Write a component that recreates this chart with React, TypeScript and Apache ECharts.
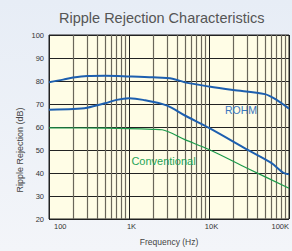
import React, { useEffect, useRef } from "react";
import * as echarts from "echarts";

const chartTitle = "Ripple Rejection Characteristics";
const xName = "Frequency (Hz)";
const yName = "Ripple Rejection (dB)";
const xTickLabels: Record<number, string> = { 100: "100", 1000: "1K", 10000: "10K", 100000: "100K" };
const minorGridFreqs = [
  200, 300, 400, 500, 600, 700, 800, 900,
  2000, 3000, 4000, 5000, 6000, 7000, 8000, 9000,
  20000, 30000, 40000, 50000, 60000, 70000, 80000, 90000,
];

// [frequency Hz, dB]
const rohmUpper: [number, number][] = [
  [100, 79.5], [150, 80.6], [200, 81.5], [300, 82.2], [500, 82.3], [1000, 82],
  [2000, 81.6], [3500, 81], [5000, 79.4], [10000, 77.6], [20000, 76.1],
  [50000, 74.3], [70000, 71.8], [100000, 68],
];
const rohmLower: [number, number][] = [
  [100, 67.5], [200, 67.8], [300, 68.4], [500, 70.3], [700, 71.8], [1000, 72.5],
  [1500, 71.8], [3000, 69.3], [5000, 65], [10000, 59.6], [30000, 50.2],
  [60000, 44.4], [85000, 40.1], [100000, 39.4],
];
const conventional: [number, number][] = [
  [100, 59.6], [500, 59.5], [1000, 59.3], [2000, 59], [2600, 58.8], [5000, 54.5],
  [10000, 50.2], [30000, 42.1], [100000, 33.4],
];

const FONT = "'Liberation Sans', Arial, sans-serif";

export default function App() {
  const ref = useRef<HTMLDivElement>(null);
  useEffect(() => {
    if (!ref.current) return;
    const chart = echarts.init(ref.current, undefined, { renderer: "svg" });
    chart.setOption({
      animation: false,
      backgroundColor: new echarts.graphic.LinearGradient(0, 0, 0, 1, [
        { offset: 0, color: "#E7EDF6" },
        { offset: 1, color: "#F3F5F9" },
      ]),
      textStyle: { fontFamily: FONT },
      title: {
        text: chartTitle,
        left: 54,
        top: 5,
        textStyle: { fontSize: 14.5, fontWeight: "normal", color: "#555", fontFamily: FONT },
      },
      grid: {
        left: 49,
        top: 35,
        right: 1,
        bottom: 31,
        show: true,
        backgroundColor: "#FFFDE6",
        borderColor: "#222",
        borderWidth: 1,
      },
      xAxis: {
        type: "log",
        logBase: 10,
        min: 100,
        max: 100000,
        name: xName,
        nameLocation: "middle",
        nameGap: 18,
        nameTextStyle: { fontSize: 8.5, color: "#444", fontFamily: FONT },
        axisLine: { show: false },
        axisTick: { show: false },
        axisLabel: {
          fontSize: 7.5,
          color: "#333",
          margin: 3,
          padding: [0, 0, 0, 5],
          alignMinLabel: "left",
          alignMaxLabel: "right",
          formatter: (v: number) => xTickLabels[Math.round(v)] ?? "",
        },
        splitLine: { show: true, lineStyle: { color: "#222", width: 1 } },
      },
      yAxis: {
        type: "value",
        min: 20,
        max: 100,
        interval: 10,
        axisLine: { show: false },
        axisTick: { show: false },
        axisLabel: { fontSize: 7.5, color: "#333", margin: 5 },
        splitLine: { show: true, lineStyle: { color: "#222", width: 1 } },
      },
      series: [
        {
          type: "line",
          data: [],
          silent: true,
          markLine: {
            silent: true,
            symbol: "none",
            label: { show: false },
            lineStyle: { color: "#6a665a", width: 1.2, type: "solid" },
            data: minorGridFreqs.map((f) => ({ xAxis: f })),
          },
        },
        {
          type: "line",
          name: "ROHM upper",
          data: rohmUpper,
          smooth: 0.3,
          showSymbol: false,
          lineStyle: { color: "#1D5FAF", width: 2 },
          z: 5,
        },
        {
          type: "line",
          name: "ROHM lower",
          data: rohmLower,
          smooth: 0.3,
          showSymbol: false,
          lineStyle: { color: "#1D5FAF", width: 2 },
          z: 5,
        },
        {
          type: "line",
          name: "Conventional",
          data: conventional,
          smooth: 0.3,
          showSymbol: false,
          lineStyle: { color: "#1B9A4B", width: 1.2 },
          z: 5,
        },
      ],
      graphic: [
        {
          type: "text",
          x: 20,
          y: 150,
          rotation: Math.PI / 2,
          style: {
            text: yName,
            fontSize: 9,
            fill: "#444",
            fontFamily: FONT,
            align: "center",
            verticalAlign: "middle",
          },
        },
        {
          type: "text",
          x: 241,
          y: 110,
          z: 10,
          style: {
            text: "ROHM",
            fontSize: 10.5,
            fill: "#3A77BF",
            fontFamily: FONT,
            align: "center",
            verticalAlign: "middle",
          },
        },
        {
          type: "text",
          x: 163.5,
          y: 160.7,
          z: 10,
          style: {
            text: "Conventional",
            fontSize: 11,
            fill: "#1FA457",
            fontFamily: FONT,
            align: "center",
            verticalAlign: "middle",
          },
        },
      ],
    });
    return () => chart.dispose();
  }, []);
  return (
    <div
      ref={ref}
      style={{ position: "fixed", left: 0, top: 0, width: 292, height: 251 }}
    />
  );
}
